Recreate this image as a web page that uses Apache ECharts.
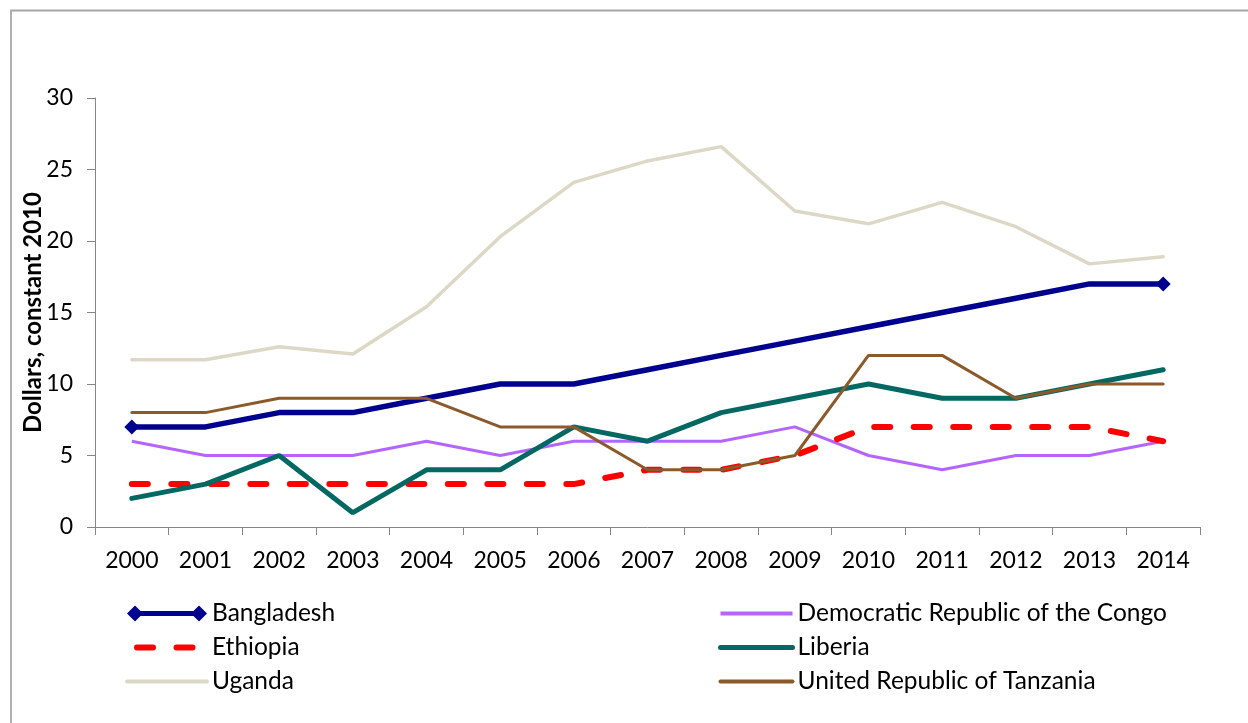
<!DOCTYPE html>
<html>
<head>
<meta charset="utf-8">
<script src="https://cdn.jsdelivr.net/npm/echarts@6/dist/echarts.min.js"></script>
<style>
  html, body { margin: 0; padding: 0; background: #fff; }
  #chart { width: 1248px; height: 723px; }
</style>
</head>
<body>
<div id="chart"></div>
<script>
// Years on the category axis
const years = ['2000', '2001', '2002', '2003', '2004', '2005', '2006', '2007',
               '2008', '2009', '2010', '2011', '2012', '2013', '2014'];

// Dollars per capita, constant 2010
const bangladesh = [7, 7, 8, 8, 9, 10, 10, 11, 12, 13, 14, 15, 16, 17, 17];
const drCongo    = [6, 5, 5, 5, 6, 5, 6, 6, 6, 7, 5, 4, 5, 5, 6];
const ethiopia   = [3, 3, 3, 3, 3, 3, 3, 4, 4, 5, 7, 7, 7, 7, 6];
const liberia    = [2, 3, 5, 1, 4, 4, 7, 6, 8, 9, 10, 9, 9, 10, 11];
const uganda     = [11.7, 11.7, 12.6, 12.1, 15.4, 20.3, 24.1, 25.6, 26.6, 22.1, 21.2, 22.7, 21.0, 18.4, 18.9];
const tanzania   = [8, 8, 9, 9, 9, 7, 7, 4, 4, 5, 12, 12, 9, 10, 10];

const yTicks = { min: 0, max: 30, interval: 5 };

const FONT = 'Lato';
const AXIS_GREY = '#868686';

// Legend icon: line with a diamond at each end (80 x 16)
const diamondLineIcon =
  'path://M0 8 L8 0 L16 8 L8 16 Z M8 5.5 L72 5.5 L72 10.5 L8 10.5 Z M64 8 L72 0 L80 8 L72 16 Z';

// Hide the centre symbol so only the line shows in the legend
const lineOnly = { color: 'rgba(0,0,0,0)', borderWidth: 0 };

const lastIdx = bangladesh.length - 1;

const chart = echarts.init(document.getElementById('chart'), null, { renderer: 'canvas' });

const legendText = { color: '#000', fontSize: 24.5, fontFamily: FONT, lineHeight: 24 };

chart.setOption({
  backgroundColor: '#ffffff',
  animation: false,
  textStyle: { fontFamily: FONT },
  graphic: [
    { type: 'line', shape: { x1: 10, y1: 10.5, x2: 1248, y2: 10.5 },
      style: { stroke: '#a6a6a6', lineWidth: 2 } },
    { type: 'line', shape: { x1: 11, y1: 10, x2: 11, y2: 723 },
      style: { stroke: '#b0b0b0', lineWidth: 2 } }
  ],
  grid: { left: 95, right: 48, top: 98, bottom: 196, containLabel: false },
  xAxis: {
    type: 'category',
    data: years,
    boundaryGap: true,
    axisLine: { show: true, lineStyle: { color: AXIS_GREY, width: 1 } },
    axisTick: { show: true, alignWithLabel: false, length: 8, lineStyle: { color: AXIS_GREY } },
    axisLabel: { color: '#000', fontSize: 23, fontFamily: FONT, margin: 22, interval: 0 },
    splitLine: { show: false }
  },
  yAxis: {
    type: 'value',
    min: yTicks.min, max: yTicks.max, interval: yTicks.interval,
    name: 'Dollars, constant 2010',
    nameLocation: 'middle',
    nameRotate: 90,
    nameGap: 50,
    nameMoveOverlap: false,
    nameTextStyle: { color: '#000', fontSize: 24, fontWeight: 'bold', fontFamily: FONT },
    axisLine: { show: true, lineStyle: { color: AXIS_GREY, width: 1 } },
    axisTick: { show: true, length: 8, inside: false, lineStyle: { color: AXIS_GREY } },
    axisLabel: { color: '#000', fontSize: 23, fontFamily: FONT, margin: 22 },
    splitLine: { show: false }
  },
  legend: [
    {
      orient: 'vertical',
      left: 124, top: 601, padding: 0,
      itemWidth: 80, itemHeight: 16, itemGap: 9,
      symbolKeepAspect: true,
      textStyle: legendText,
      data: [
        { name: 'Bangladesh', icon: diamondLineIcon },
        { name: 'Ethiopia', itemStyle: lineOnly, lineStyle: { width: 6, dashOffset: 29.5 } },
        { name: 'Uganda', itemStyle: lineOnly, lineStyle: { width: 4 } }
      ]
    },
    {
      orient: 'vertical',
      left: 718, top: 601, padding: 0,
      itemWidth: 72, itemHeight: 16, itemGap: 9,
      textStyle: legendText,
      data: [
        { name: 'Democratic Republic of the Congo', itemStyle: lineOnly, lineStyle: { width: 4 } },
        { name: 'Liberia', itemStyle: lineOnly, lineStyle: { width: 5 } },
        { name: 'United Republic of Tanzania', itemStyle: lineOnly, lineStyle: { width: 4 } }
      ]
    }
  ],
  series: [
    {
      name: 'Bangladesh', type: 'line', data: bangladesh,
      symbol: 'diamond',
      symbolSize: (v, p) => (p.dataIndex === 0 || p.dataIndex === lastIdx) ? 15 : 0,
      showAllSymbol: true,
      itemStyle: { color: '#00008e' },
      lineStyle: { color: '#00008e', width: 5.5 }
    },
    {
      name: 'Democratic Republic of the Congo', type: 'line', data: drCongo,
      symbol: 'none',
      itemStyle: { color: '#b565ff' },
      lineStyle: { color: '#b565ff', width: 3 }
    },
    {
      name: 'Ethiopia', type: 'line', data: ethiopia,
      symbol: 'none',
      itemStyle: { color: '#ff0000' },
      lineStyle: { color: '#ff0000', width: 6, type: [16, 23.5], cap: 'round' }
    },
    {
      name: 'Liberia', type: 'line', data: liberia,
      symbol: 'none',
      itemStyle: { color: '#036861' },
      lineStyle: { color: '#036861', width: 5, cap: 'round' }
    },
    {
      name: 'Uganda', type: 'line', data: uganda,
      symbol: 'none',
      itemStyle: { color: '#ddd8c6' },
      lineStyle: { color: '#ddd8c6', width: 3.5, cap: 'round' }
    },
    {
      name: 'United Republic of Tanzania', type: 'line', data: tanzania,
      symbol: 'none',
      itemStyle: { color: '#8a5a2b' },
      lineStyle: { color: '#8a5a2b', width: 3, cap: 'round' }
    }
  ]
});
</script>
</body>
</html>
